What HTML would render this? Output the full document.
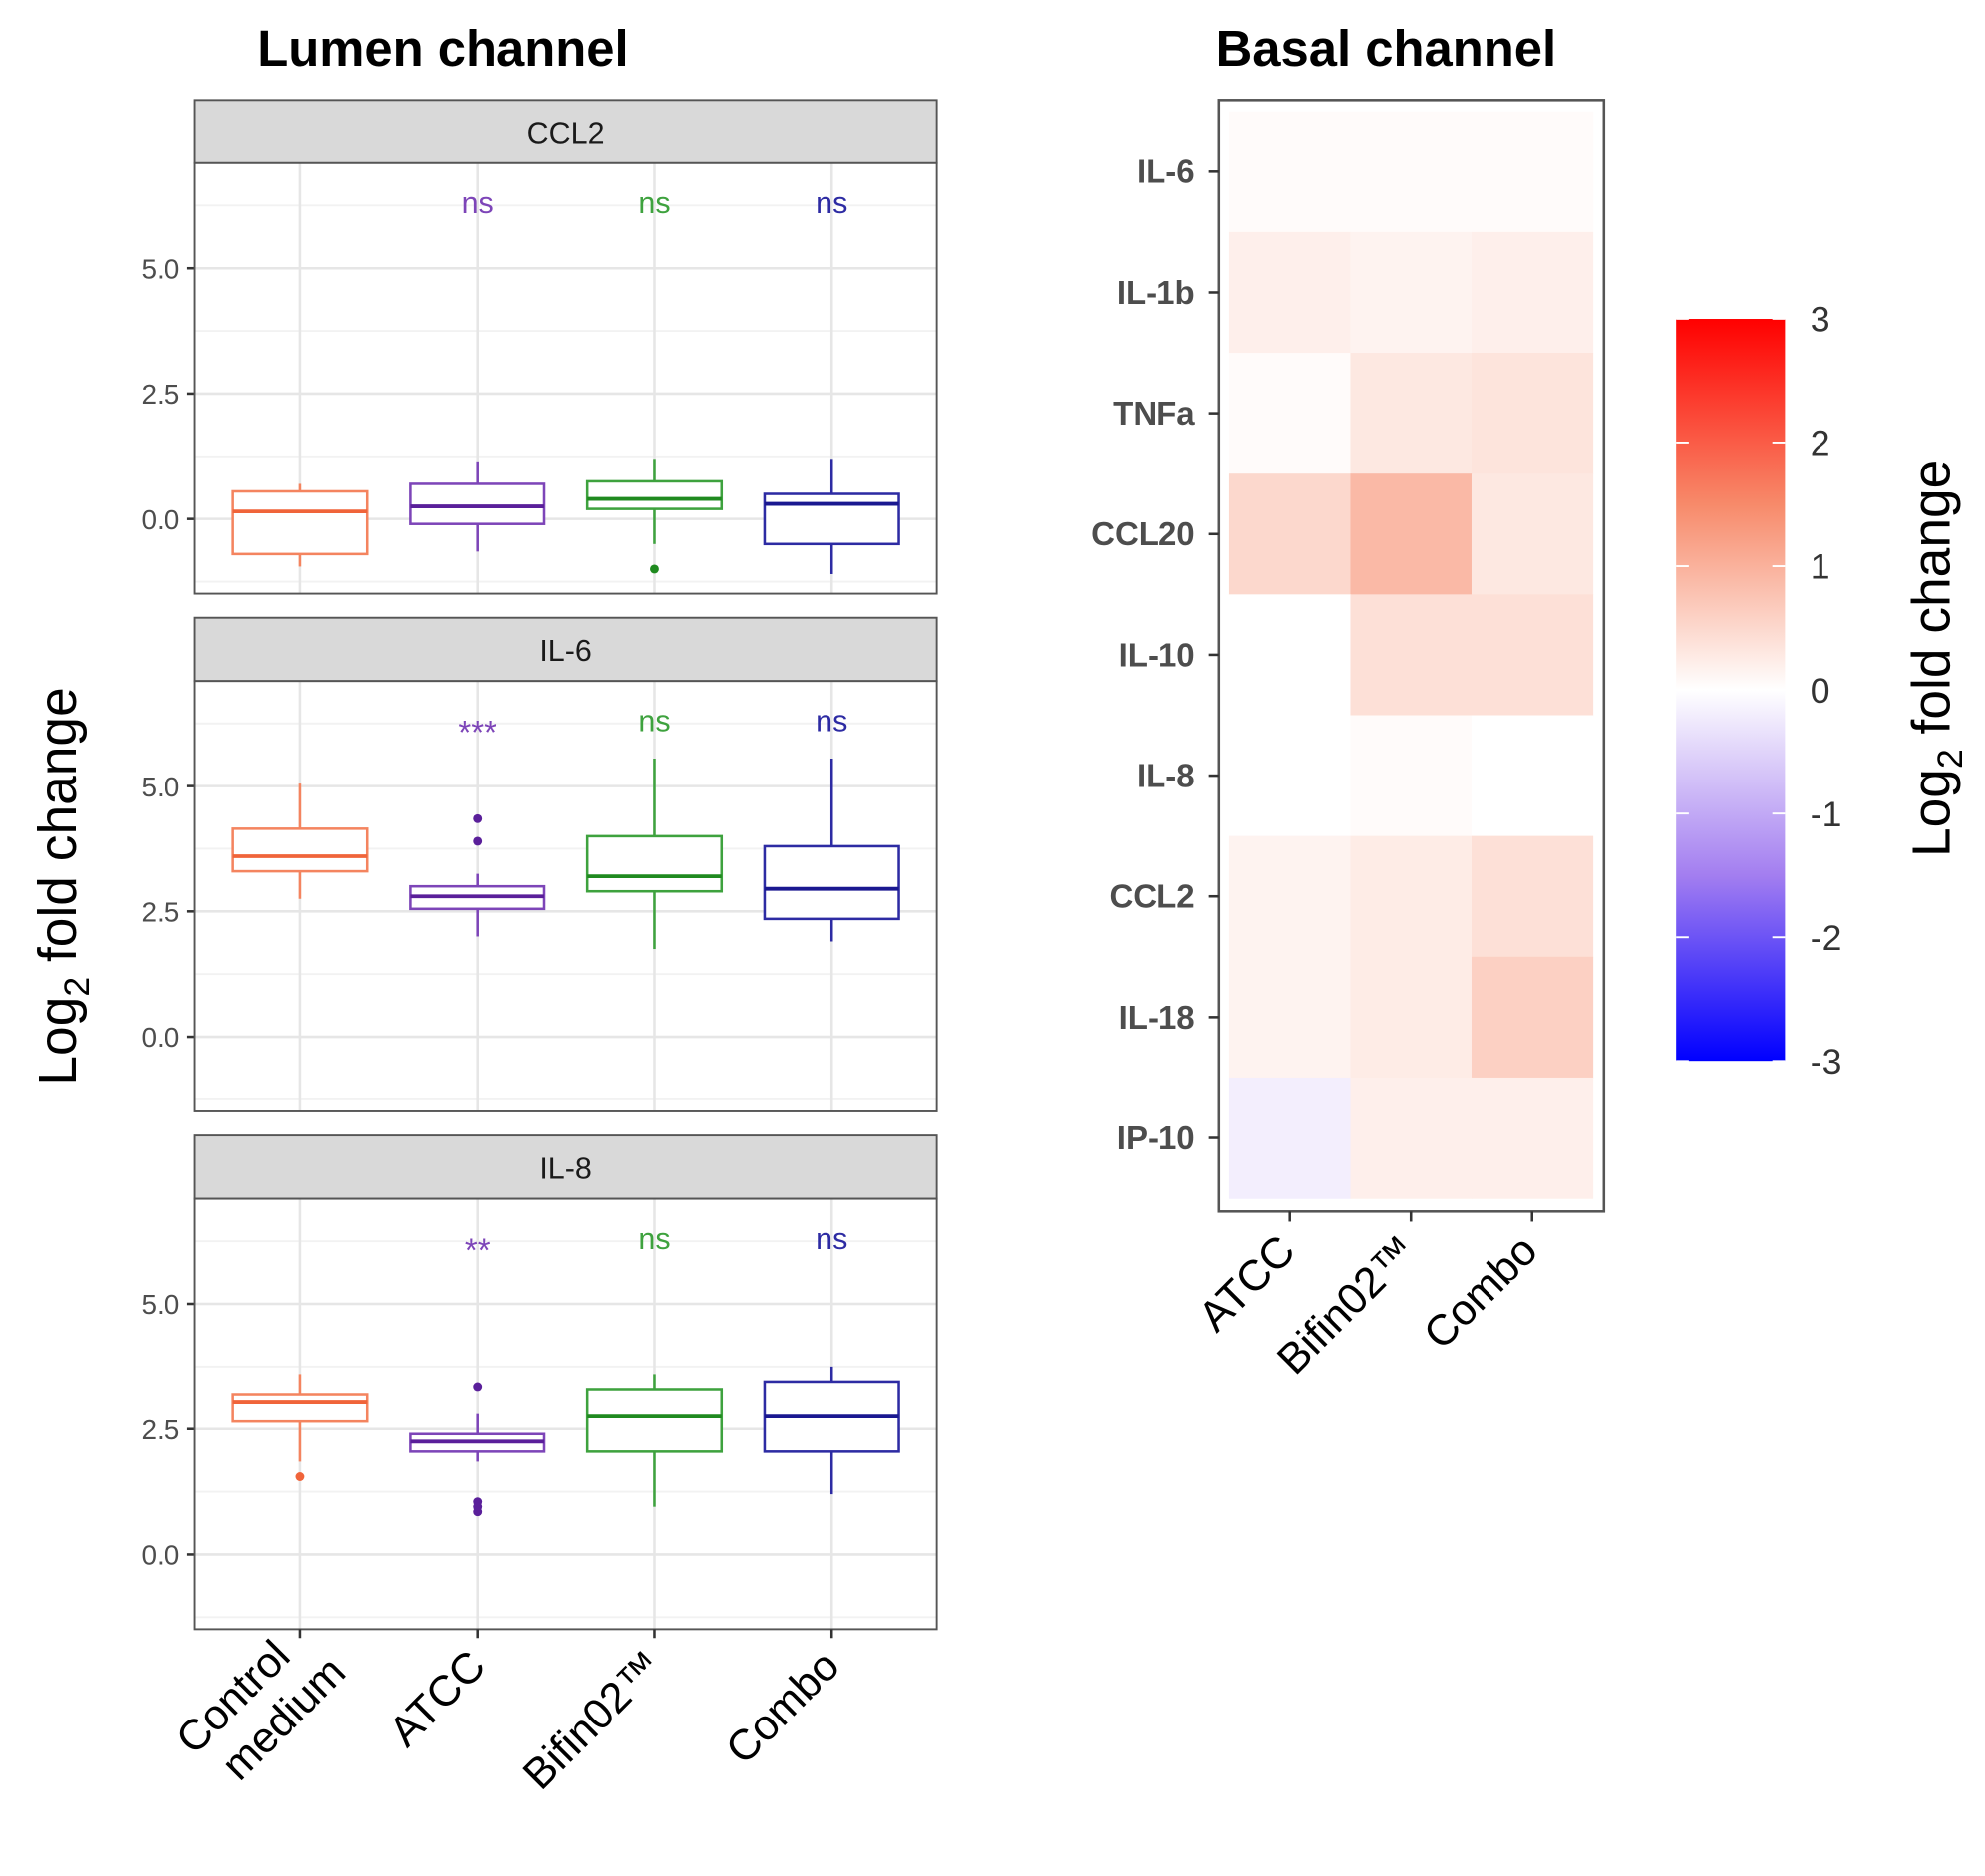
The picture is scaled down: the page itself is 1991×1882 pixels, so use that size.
<!DOCTYPE html>
<html><head><meta charset="utf-8"><style>
html,body{margin:0;padding:0;background:#fff}
svg{display:block;font-family:"Liberation Sans","DejaVu Sans",sans-serif}
</style></head><body>
<svg id="c" width="1991" height="1882" viewBox="0 0 1568 1482" preserveAspectRatio="none" xmlns="http://www.w3.org/2000/svg">
<text x="350" y="52" text-anchor="middle" font-size="40" font-weight="bold">Lumen channel</text>
<text x="1095" y="52" text-anchor="middle" font-size="40" font-weight="bold">Basal channel</text>
<text transform="translate(60,700) rotate(-90)" text-anchor="middle" font-size="42">Log<tspan font-size="28" dy="10">2</tspan><tspan dy="-10"> fold change</tspan></text>
<text transform="translate(1540,520) rotate(-90)" text-anchor="middle" font-size="42">Log<tspan font-size="28" dy="10">2</tspan><tspan dy="-10"> fold change</tspan></text>
<g id="g"></g>
</svg>
<script>
const groups=["Control\nmedium","ATCC","Bifin02™","Combo"];
const colors=["#f4845f","#7d45b8","#3ea23e","#2d2ba3"];
const medColors=["#f0643a","#5a1f9a","#1f8a1f","#1a1890"];
const panels=["CCL2","IL-6","IL-8"];
// [lowWhisker,q1,median,q3,highWhisker]
const boxCCL2=[[-0.95,-0.7,0.15,0.55,0.7],[-0.65,-0.1,0.25,0.7,1.15],[-0.5,0.2,0.4,0.75,1.2],[-1.1,-0.5,0.3,0.5,1.2]];
const boxIL6=[[2.75,3.3,3.6,4.15,5.05],[2.0,2.55,2.8,3.0,3.25],[1.75,2.9,3.2,4.0,5.55],[1.9,2.35,2.95,3.8,5.55]];
const boxIL8=[[1.85,2.65,3.05,3.2,3.6],[1.85,2.05,2.25,2.4,2.8],[0.95,2.05,2.75,3.3,3.6],[1.2,2.05,2.75,3.45,3.75]];
const outCCL2=[[],[],[-1.0],[]];
const outIL6=[[],[3.9,4.35],[],[]];
const outIL8=[[1.55],[3.35,1.05,0.95,0.85],[],[]];
const sigCCL2=["","ns","ns","ns"];
const sigIL6=["","***","ns","ns"];
const sigIL8=["","**","ns","ns"];
const yTicks=[0,2.5,5];
const yTickLabels=["0.0","2.5","5.0"];
const hmCols=["ATCC","Bifin02™","Combo"];
const hmRows=["IL-6","IL-1b","TNFa","CCL20","IL-10","IL-8","CCL2","IL-18","IP-10"];
const hmIL6=[0.05,0.05,0.05];
const hmIL1b=[0.2,0.15,0.2];
const hmTNFa=[0.05,0.3,0.35];
const hmCCL20=[0.5,0.9,0.3];
const hmIL10=[0,0.4,0.4];
const hmIL8=[0,0.05,0];
const hmCCL2=[0.15,0.25,0.4];
const hmIL18=[0.15,0.25,0.6];
const hmIP10=[-0.2,0.2,0.2];
const legendTicks=[3,2,1,0,-1,-2,-3];

const NS="http://www.w3.org/2000/svg";const G=document.getElementById('g');
function el(t,a,p){const e=document.createElementNS(NS,t);for(const k in a)e.setAttribute(k,a[k]);(p||G).appendChild(e);return e;}
const boxes=[boxCCL2,boxIL6,boxIL8],outs=[outCCL2,outIL6,outIL8],sigs=[sigCCL2,sigIL6,sigIL8];
const PX0=154,PX1=740,stripTops=[79,488,897];
const xPos=i=>237+i*140;
panels.forEach((name,p)=>{
  const st=stripTops[p],top=st+50,bot=top+340;
  const y=v=>top+281-v*39.6;
  const pg=el('g',{});
  
  
  el('rect',{x:PX0,y:st,width:PX1-PX0,height:50,fill:'#d9d9d9',stroke:'#555','stroke-width':1.5},pg);
  const s=el('text',{x:(PX0+PX1)/2,y:st+34,'text-anchor':'middle','font-size':24,fill:'#1a1a1a'},pg);s.textContent=name;
  
  
  el('rect',{x:PX0,y:top,width:PX1-PX0,height:340,fill:'#fff'},pg);
  [-1.25,1.25,3.75,6.25].forEach(v=>el('line',{x1:PX0,x2:PX1,y1:y(v),y2:y(v),stroke:'#f2f2f2','stroke-width':1.5},pg));
  yTicks.forEach((v,i)=>{el('line',{x1:PX0,x2:PX1,y1:y(v),y2:y(v),stroke:'#e6e6e6','stroke-width':2},pg);
    el('line',{x1:PX0-6,x2:PX0,y1:y(v),y2:y(v),stroke:'#333','stroke-width':2},pg);
    const t=el('text',{x:PX0-12,y:y(v)+8,'text-anchor':'end','font-size':22,fill:'#4d4d4d'},pg);t.textContent=yTickLabels[i];
    
    });
  groups.forEach((g,i)=>el('line',{x1:xPos(i),x2:xPos(i),y1:top,y2:bot,stroke:'#e6e6e6','stroke-width':2},pg));
  boxes[p].forEach((b,i)=>{const cx=xPos(i),c=colors[i];
    const bg=el('g',{},pg);
    
    
    el('line',{x1:cx,x2:cx,y1:y(b[0]),y2:y(b[1]),stroke:c,'stroke-width':2},bg);
    el('line',{x1:cx,x2:cx,y1:y(b[3]),y2:y(b[4]),stroke:c,'stroke-width':2},bg);
    el('rect',{x:cx-53,y:y(b[3]),width:106,height:y(b[1])-y(b[3]),fill:'#fff',stroke:c,'stroke-width':2},bg);
    el('line',{x1:cx-53,x2:cx+53,y1:y(b[2]),y2:y(b[2]),stroke:medColors[i],'stroke-width':3},bg);
    outs[p][i].forEach(v=>{const o=el('circle',{cx:cx,cy:y(v),r:3.5,fill:medColors[i]},bg);
      
      });
    if(sigs[p][i]){const star=sigs[p][i][0]==='*';
      const t=el('text',{x:cx,y:star?y(6.3)+18:y(6.3)+8,'text-anchor':'middle','font-size':star?26:24,fill:colors[i]},pg);t.textContent=sigs[p][i];
      
      }
  });
  el('rect',{x:PX0,y:top,width:PX1-PX0,height:340,fill:'none',stroke:'#555','stroke-width':1.5},pg);
});
groups.forEach((g,i)=>{const cx=xPos(i);
  el('line',{x1:cx,x2:cx,y1:1287,y2:1294,stroke:'#333','stroke-width':2});
  const lines=g.split('\n');
  const t=el('text',{transform:`translate(${cx+8},${1318}) rotate(-45)`,'text-anchor':'end','font-size':34,fill:'#000'});
  
  
  if(lines.length>1){t.setAttribute('transform',`translate(${cx-6},${1310}) rotate(-45)`);
    const a=el('tspan',{x:0,y:0},t);a.textContent=lines[0];
    const b=el('tspan',{x:22,y:40},t);b.textContent=lines[1];}
  else t.textContent=g;
});
// heatmap
function lerp(a,b,t){return a.map((v,i)=>Math.round(v+(b[i]-v)*t));}
function col(v){const W=[255,255,255],M=[247,138,106],R=[255,0,0],PM=[163,126,240],B=[0,0,255];
  const a=Math.min(3,Math.abs(v));let c;
  if(v>=0)c=a<=1.5?lerp(W,M,a/1.5):lerp(M,R,(a-1.5)/1.5);
  else c=a<=1.5?lerp(W,PM,a/1.5):lerp(PM,B,(a-1.5)/1.5);
  return `rgb(${c[0]},${c[1]},${c[2]})`;}
const hmData=[hmIL6,hmIL1b,hmTNFa,hmCCL20,hmIL10,hmIL8,hmCCL2,hmIL18,hmIP10];
el('rect',{x:963,y:79,width:304,height:878,fill:'#fff',stroke:'#555','stroke-width':2});
const cw=95.7,rh=95.4,hx=971,hy=88;
hmData.forEach((row,r)=>{row.forEach((v,c)=>{const t=el('rect',{x:hx+c*cw,y:hy+r*rh,width:cw+0.5,height:rh+0.5,fill:col(v)});
  
  });
  const cy=hy+r*rh+rh/2;
  el('line',{x1:955,x2:963,y1:cy,y2:cy,stroke:'#333','stroke-width':2});
  const t=el('text',{x:944,y:cy+9,'text-anchor':'end','font-size':26,'font-weight':'bold',fill:'#4d4d4d'});t.textContent=hmRows[r];
  
  
});
hmCols.forEach((c,i)=>{const cx=hx+i*cw+cw/2;
  el('line',{x1:cx,x2:cx,y1:957,y2:965,stroke:'#333','stroke-width':2});
  const t=el('text',{transform:`translate(${cx+6},${990}) rotate(-45)`,'text-anchor':'end','font-size':34,fill:'#000'});t.textContent=c;
  
  });
// legend
const defs=el('defs',{});const lg=el('linearGradient',{id:'lg',x1:0,y1:0,x2:0,y2:1},defs);
[[0,'#ff0000'],[0.25,'#f78a6a'],[0.5,'#ffffff'],[0.75,'#a37ef0'],[1,'#0000ff']].forEach(s=>el('stop',{offset:s[0],'stop-color':s[1]},lg));
const lb=el('rect',{x:1324,y:252,width:86,height:586,fill:'url(#lg)'});


legendTicks.forEach(v=>{const yy=545-v*97.7;
  el('line',{x1:1324,x2:1334,y1:yy,y2:yy,stroke:'#fff','stroke-width':1.5});
  el('line',{x1:1400,x2:1410,y1:yy,y2:yy,stroke:'#fff','stroke-width':1.5});
  const t=el('text',{x:1430,y:yy+10,'font-size':28,fill:'#333'});t.textContent=String(v);
  
  });
</script>
</body></html>
